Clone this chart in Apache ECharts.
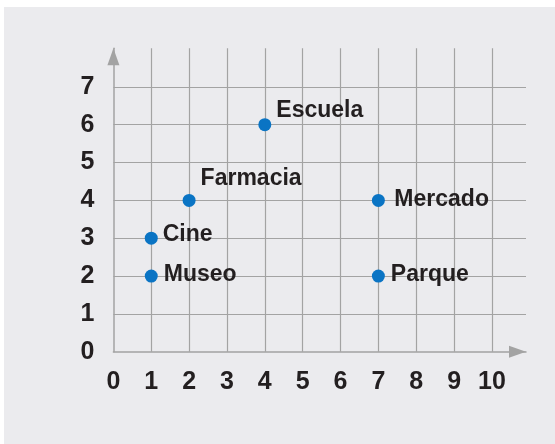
<!DOCTYPE html>
<html>
<head>
<meta charset="utf-8">
<script src="https://cdn.jsdelivr.net/npm/echarts@6/dist/echarts.min.js"></script>
<style>
  html, body { margin: 0; padding: 0; background: #ffffff; }
  #main { width: 555px; height: 444px; }
</style>
</head>
<body>
<div id="main"></div>
<script>
// places on the grid
var places = ['Cine', 'Museo', 'Farmacia', 'Escuela', 'Mercado', 'Parque'];
var placeX = [1, 1, 2, 4, 7, 7];
var placeY = [3, 2, 4, 6, 4, 2];
var xTicks = [0, 1, 2, 3, 4, 5, 6, 7, 8, 9, 10];
var yTicks = [0, 1, 2, 3, 4, 5, 6, 7];

// label nudges (px), same order as places
var labelOffsets = [[0, -3.5], [1, -1.5], [0, -21.5], [0, -14], [4.5, -1], [1, -1.5]];

window.onload = function () {
    var myChart = echarts.init(document.getElementById('main'));
    var font = "'Liberation Sans', Arial, sans-serif";
    var gridColor = '#a3a3a3';

    var gridLines = [];
    xTicks.forEach(function (v) { if (v > 0) gridLines.push({ xAxis: v }); });
    yTicks.forEach(function (v) { if (v > 0) gridLines.push({ yAxis: v }); });

    var points = places.map(function (name, i) {
        return {
            name: name,
            value: [placeX[i], placeY[i]],
            label: { offset: labelOffsets[i] }
        };
    });

    function tickLabel(list) {
        return function (v) { return list.indexOf(v) >= 0 ? String(v) : ''; };
    }

    var option = {
        backgroundColor: '#ffffff',
        animation: false,
        graphic: [{
            type: 'rect',
            z: -10,
            shape: { x: 4, y: 7, width: 551, height: 437 },
            style: { fill: '#ebebee' }
        }],
        grid: { left: 113.4, right: 29, top: 48.3, bottom: 92.3 },
        xAxis: {
            type: 'value',
            min: 0,
            max: 10.9,
            interval: 1,
            splitLine: { show: false },
            axisTick: { show: false },
            axisLine: {
                show: true,
                symbol: ['none', 'triangle'],
                symbolSize: [12, 17],
                symbolOffset: [0, -8.5],
                lineStyle: { color: gridColor, width: 1.5 }
            },
            axisLabel: {
                formatter: tickLabel(xTicks),
                fontSize: 25,
                fontWeight: 'bold',
                fontFamily: font,
                color: '#231f20',
                margin: 18
            }
        },
        yAxis: {
            type: 'value',
            min: 0,
            max: 8.02,
            interval: 1,
            splitLine: { show: false },
            axisTick: { show: false },
            axisLine: {
                show: true,
                symbol: ['none', 'triangle'],
                symbolSize: [12, 17],
                symbolOffset: [0, -8.5],
                lineStyle: { color: gridColor, width: 1.5 }
            },
            axisLabel: {
                formatter: tickLabel(yTicks),
                fontSize: 25,
                fontWeight: 'bold',
                fontFamily: font,
                color: '#231f20',
                margin: 19
            }
        },
        series: [
            {
                type: 'line',
                data: [],
                z: 1,
                silent: true,
                markLine: {
                    z: 1,
                    silent: true,
                    symbol: 'none',
                    label: { show: false },
                    lineStyle: { type: 'solid', color: gridColor, width: 1.2 },
                    data: gridLines
                }
            },
            {
                type: 'scatter',
                z: 3,
                symbolSize: 13,
                itemStyle: { color: '#0a74c4', opacity: 1 },
                label: {
                    show: true,
                    position: 'right',
                    distance: 5,
                    formatter: '{b}',
                    fontSize: 23,
                    fontWeight: 'bold',
                    fontFamily: font,
                    color: '#231f20'
                },
                data: points
            }
        ]
    };
    option && myChart.setOption(option);
};
</script>
</body>
</html>
